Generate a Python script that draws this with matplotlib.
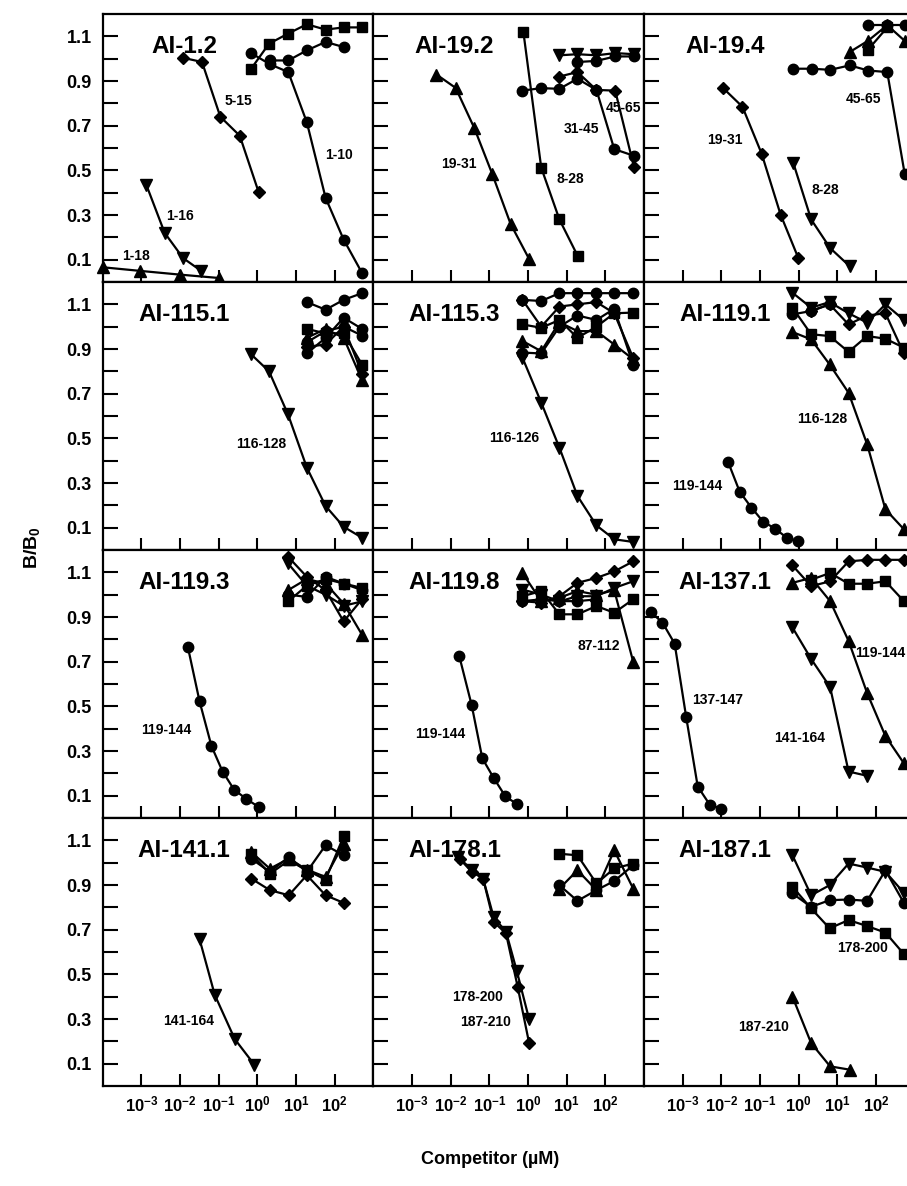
import matplotlib
matplotlib.use('Agg')
import matplotlib.pyplot as plt

plt.rcParams['font.family'] = ['Liberation Sans', 'DejaVu Sans']
plt.rcParams['font.weight'] = 'bold'
plt.rcParams['mathtext.fontset'] = 'custom'
plt.rcParams['mathtext.rm'] = 'Liberation Sans:bold'
plt.rcParams['mathtext.it'] = 'Liberation Sans:bold'
plt.rcParams['mathtext.bf'] = 'Liberation Sans:bold'
plt.rcParams['mathtext.default'] = 'rm'

# competitor concentration (uM) vs B/B0, one list of (marker, x, y) per panel
ai_1_2 = [
    ('^', [1e-4, 9e-4, 1e-2, 0.1], [0.066, 0.05, 0.033, 0.018]),
    ('v', [1.35e-3, 4e-3, 0.012, 0.035], [0.434, 0.22, 0.107, 0.05]),
    ('D', [0.012, 0.037, 0.11, 0.35, 1.07], [1.004, 0.985, 0.74, 0.655, 0.404]),
    ('s', [0.69, 2.0, 6.2, 19, 58, 170, 510], [0.955, 1.067, 1.112, 1.154, 1.13, 1.14, 1.14]),
    ('o', [2.1, 6.3, 19, 58, 170], [0.992, 0.992, 1.037, 1.075, 1.052]),
    ('o', [0.69, 2.1, 6.3, 19, 58, 170, 510], [1.025, 0.975, 0.94, 0.715, 0.377, 0.19, 0.04]),
]
ai_1_2_labels = [('5-15', 0.32, 0.812), ('1-10', 126, 0.569), ('1-16', 0.0098, 0.295), ('1-18', 7.4e-4, 0.118)]

ai_19_2 = [
    ('^', [4.3e-3, 0.0135, 0.041, 0.12, 0.355, 1.07], [0.929, 0.869, 0.689, 0.482, 0.26, 0.103]),
    ('s', [0.76, 2.2, 6.5, 19.5], [1.12, 0.512, 0.28, 0.115]),
    ('o', [0.72, 2.2, 6.5, 19, 59, 170, 550], [0.857, 0.868, 0.865, 0.91, 0.86, 0.595, 0.565]),
    ('D', [6.5, 19, 59, 180, 550], [0.92, 0.94, 0.86, 0.857, 0.515]),
    ('v', [6.5, 19, 59, 180, 550], [1.015, 1.02, 1.015, 1.025, 1.02]),
    ('o', [19, 59, 180, 550], [0.985, 0.99, 1.01, 1.01]),
]
ai_19_2_labels = [('19-31', 0.0166, 0.527), ('8-28', 12.3, 0.46), ('31-45', 24.5, 0.685), ('45-65', 302, 0.78)]

ai_19_4 = [
    ('D', [0.011, 0.035, 0.11, 0.34, 0.98], [0.869, 0.785, 0.575, 0.302, 0.107]),
    ('v', [0.72, 2.1, 6.5, 21], [0.535, 0.28, 0.152, 0.07]),
    ('o', [0.72, 2.2, 6.5, 21, 62, 195, 550], [0.955, 0.955, 0.95, 0.97, 0.947, 0.94, 0.485]),
    ('^', [21, 62, 195, 550], [1.03, 1.08, 1.15, 1.08]),
    ('o', [62, 195, 550], [1.15, 1.15, 1.15]),
    ('s', [62, 195], [1.04, 1.14]),
]
ai_19_4_labels = [('19-31', 0.0123, 0.635), ('8-28', 4.8, 0.41), ('45-65', 48, 0.82)]

ai_115_1 = [
    ('v', [0.69, 2.0, 6.2, 19, 58, 170, 510], [0.876, 0.80, 0.607, 0.369, 0.197, 0.104, 0.055]),
    ('o', [19, 58, 170, 510], [1.11, 1.076, 1.12, 1.15]),
    ('o', [19, 58, 170, 510], [0.88, 0.95, 1.04, 0.99]),
    ('o', [19, 58, 170, 510], [0.93, 0.98, 1.0, 0.96]),
    ('s', [19, 58, 170, 510], [0.99, 0.97, 0.97, 0.83]),
    ('D', [19, 58, 170, 510], [0.91, 0.92, 1.0, 0.79]),
    ('^', [19, 58, 170, 510], [0.95, 0.99, 0.95, 0.76]),
]
ai_115_1_labels = [('116-128', 1.23, 0.473)]

ai_115_3 = [
    ('v', [0.72, 2.2, 6.5, 19, 59, 170, 525], [0.861, 0.66, 0.458, 0.242, 0.11, 0.048, 0.036]),
    ('o', [0.72, 2.2, 6.5, 19, 59, 170, 525], [1.12, 1.115, 1.15, 1.15, 1.15, 1.15, 1.15]),
    ('D', [0.72, 2.2, 6.5, 19, 59, 170, 525], [1.12, 1.0, 1.09, 1.1, 1.11, 1.06, 0.86]),
    ('s', [0.72, 2.2, 6.5, 19, 59, 170, 525], [1.01, 0.995, 1.03, 0.95, 1.0, 1.06, 1.063]),
    ('^', [0.72, 2.2, 6.5, 19, 59, 170, 525], [0.936, 0.89, 1.02, 0.98, 0.98, 0.92, 0.854]),
    ('o', [0.72, 2.2, 6.5, 19, 59, 170, 525], [0.884, 0.88, 1.0, 1.05, 1.03, 1.08, 0.83]),
]
ai_115_3_labels = [('116-126', 0.44, 0.503)]

ai_119_1 = [
    ('o', [0.0148, 0.030, 0.060, 0.12, 0.245, 0.49, 0.98], [0.396, 0.26, 0.19, 0.127, 0.096, 0.055, 0.04]),
    ('^', [0.69, 2.1, 6.3, 19.5, 59, 175, 525], [0.976, 0.943, 0.831, 0.704, 0.473, 0.182, 0.093]),
    ('v', [0.69, 2.1, 6.3, 19.5, 59, 175, 525], [1.152, 1.085, 1.11, 1.06, 1.018, 1.1, 1.03]),
    ('s', [0.69, 2.1, 6.3, 19.5, 59, 175, 525], [1.085, 0.966, 0.958, 0.887, 0.958, 0.946, 0.906]),
    ('D', [2.1, 6.3, 19.5, 59, 175, 525], [1.07, 1.1, 1.01, 1.05, 1.06, 0.88]),
    ('o', [0.69, 2.1, 6.3], [1.055, 1.07, 1.1]),
]
ai_119_1_labels = [('116-128', 4.0, 0.585), ('119-144', 2.45e-3, 0.287)]

ai_119_3 = [
    ('o', [0.016, 0.032, 0.065, 0.126, 0.25, 0.52, 1.07], [0.764, 0.522, 0.322, 0.208, 0.127, 0.085, 0.05]),
    ('D', [6.2, 19, 58, 170, 510], [1.17, 1.08, 1.02, 0.88, 0.98]),
    ('v', [6.2, 19, 58, 170, 510], [1.14, 1.04, 1.0, 0.95, 0.97]),
    ('^', [6.2, 19, 58, 170, 510], [1.02, 1.07, 1.05, 0.96, 0.82]),
    ('s', [6.2, 19, 58, 170, 510], [0.97, 1.04, 1.07, 1.05, 1.03]),
    ('o', [6.2, 19, 58, 170, 510], [1.0, 0.99, 1.08, 1.05, 1.02]),
]
ai_119_3_labels = [('119-144', 4.5e-3, 0.393)]

ai_119_8 = [
    ('o', [0.0166, 0.035, 0.066, 0.13, 0.26, 0.51], [0.727, 0.505, 0.267, 0.179, 0.097, 0.063]),
    ('^', [0.72, 2.2, 6.5, 19, 59, 170, 525], [1.097, 0.971, 0.986, 1.016, 1.0, 1.02, 0.70]),
    ('D', [0.72, 2.2, 6.5, 19, 59, 170, 525], [0.971, 0.964, 0.993, 1.053, 1.075, 1.104, 1.149]),
    ('v', [0.72, 2.2, 6.5, 19, 59, 170, 525], [1.023, 1.0, 0.97, 0.993, 0.993, 1.03, 1.06]),
    ('s', [0.72, 2.2, 6.5, 19, 59, 170, 525], [0.993, 1.016, 0.912, 0.912, 0.949, 0.919, 0.979]),
    ('o', [0.72, 2.2, 6.5, 19, 59], [0.971, 0.979, 0.971, 0.971, 0.979]),
]
ai_119_8_labels = [('119-144', 5.5e-3, 0.376), ('87-112', 68, 0.771)]

ai_137_1 = [
    ('o', [1.5e-4, 3.0e-4, 6.2e-4, 1.23e-3, 2.45e-3, 5.0e-3, 0.01], [0.922, 0.875, 0.781, 0.453, 0.141, 0.06, 0.041]),
    ('v', [0.69, 2.1, 6.5, 19.5, 59], [0.853, 0.712, 0.586, 0.208, 0.189]),
    ('^', [0.69, 2.1, 6.5, 19.5, 59, 175, 525], [1.053, 1.075, 0.971, 0.793, 0.559, 0.367, 0.245]),
    ('D', [0.69, 2.1, 6.5, 19.5, 59, 175, 525], [1.131, 1.038, 1.06, 1.149, 1.156, 1.156, 1.156]),
    ('s', [2.1, 6.5, 19.5, 59, 175, 525], [1.067, 1.097, 1.049, 1.049, 1.06, 0.971]),
]
ai_137_1_labels = [('137-147', 8.1e-3, 0.53), ('141-164', 1.07, 0.36), ('119-144', 129, 0.737)]

ai_141_1 = [
    ('v', [0.032, 0.079, 0.26, 0.83], [0.657, 0.408, 0.21, 0.096]),
    ('D', [0.69, 2.1, 6.5, 19, 58, 170], [0.929, 0.877, 0.854, 0.944, 0.854, 0.82]),
    ('o', [0.69, 2.1, 6.5, 19, 58, 170], [1.018, 0.959, 1.025, 0.959, 1.078, 1.033]),
    ('s', [0.69, 2.1, 6.5, 19, 58, 170], [1.04, 0.95, 1.01, 0.966, 0.924, 1.118]),
    ('^', [0.69, 2.1, 6.5, 19, 58, 170], [1.048, 0.973, 1.018, 0.969, 0.936, 1.085]),
]
ai_141_1_labels = [('141-164', 0.017, 0.293)]

ai_178_1 = [
    ('v', [0.0155, 0.035, 0.069, 0.13, 0.27, 0.51, 1.07], [1.026, 0.969, 0.929, 0.755, 0.691, 0.517, 0.299]),
    ('D', [0.017, 0.035, 0.069, 0.13, 0.27, 0.54, 1.07], [1.018, 0.959, 0.929, 0.735, 0.683, 0.445, 0.192]),
    ('s', [6.5, 19, 59, 170, 525], [1.04, 1.033, 0.907, 0.974, 0.996]),
    ('^', [6.5, 19, 59, 170, 525], [0.884, 0.966, 0.877, 1.055, 0.884]),
    ('o', [6.5, 19, 59, 170, 525], [0.899, 0.829, 0.877, 0.918, 0.988]),
]
ai_178_1_labels = [('178-200', 0.051, 0.398), ('187-210', 0.081, 0.285)]

ai_187_1 = [
    ('^', [0.69, 2.1, 6.5, 21], [0.40, 0.192, 0.088, 0.073]),
    ('v', [0.69, 2.1, 6.3, 19.5, 59, 175, 525], [1.033, 0.854, 0.899, 0.996, 0.978, 0.959, 0.865]),
    ('o', [0.69, 2.1, 6.3, 19.5, 59, 175, 525], [0.862, 0.802, 0.832, 0.835, 0.829, 0.966, 0.82]),
    ('s', [0.69, 2.1, 6.3, 19.5, 59, 175, 525], [0.892, 0.795, 0.706, 0.743, 0.716, 0.687, 0.591]),
]
ai_187_1_labels = [('178-200', 44, 0.616), ('187-210', 0.126, 0.265)]

panels = [
    ('AI-1.2', ai_1_2, ai_1_2_labels), ('AI-19.2', ai_19_2, ai_19_2_labels), ('AI-19.4', ai_19_4, ai_19_4_labels),
    ('AI-115.1', ai_115_1, ai_115_1_labels), ('AI-115.3', ai_115_3, ai_115_3_labels), ('AI-119.1', ai_119_1, ai_119_1_labels),
    ('AI-119.3', ai_119_3, ai_119_3_labels), ('AI-119.8', ai_119_8, ai_119_8_labels), ('AI-137.1', ai_137_1, ai_137_1_labels),
    ('AI-141.1', ai_141_1, ai_141_1_labels), ('AI-178.1', ai_178_1, ai_178_1_labels), ('AI-187.1', ai_187_1, ai_187_1_labels),
]

x_ticks = [1e-3, 1e-2, 1e-1, 1e0, 1e1, 1e2]
x_ticklabels = ['10$^{-3}$', '10$^{-2}$', '10$^{-1}$', '10$^{0}$', '10$^{1}$', '10$^{2}$']
y_ticks = [0.1, 0.3, 0.5, 0.7, 0.9, 1.1]
y_minor = [0.2, 0.4, 0.6, 0.8, 1.0]

W, H = 907, 1186
fig = plt.figure(figsize=(W / 100, H / 100), dpi=100)
col_left = [102.7, 373.3, 644.0]
row_top = [14, 282, 550, 818]
pw, ph = 270.7, 268
msize = {'o': 7.5, 's': 7, 'D': 6.5, '^': 8, 'v': 8}

for i, (name, series, labels) in enumerate(panels):
    r, c = divmod(i, 3)
    ax = fig.add_axes([col_left[c] / W, 1 - (row_top[r] + ph) / H, pw / W, ph / H])
    for m, xs, ys in series:
        ax.plot(xs, ys, color='black', lw=1.6, marker=m, ms=msize[m], mfc='black', mec='black', clip_on=False)
    for txt, lx, ly in labels:
        ax.text(lx, ly, txt, fontsize=10, fontweight='bold', ha='center', va='center')
    ax.text(0.30, 0.855, name, transform=ax.transAxes, fontsize=17.5, fontweight='bold', ha='center', va='baseline')
    ax.set_xscale('log')
    ax.set_xlim(1e-4, 1e3)
    ax.set_ylim(0, 1.2)
    ax.set_xticks(x_ticks)
    ax.xaxis.set_minor_locator(matplotlib.ticker.NullLocator())
    ax.set_yticks(y_ticks)
    ax.set_yticks(y_minor, minor=True)
    ax.tick_params(axis='x', which='major', direction='in', length=9, width=1.5, top=False, pad=6)
    ax.tick_params(axis='y', which='both', direction='in', length=11, width=1.5, right=False, pad=8)
    if r == 3:
        ax.set_xticklabels(x_ticklabels, fontsize=12, fontweight='bold')
    else:
        ax.set_xticklabels([])
    if c == 0:
        ax.set_yticklabels(['%.1f' % v for v in y_ticks], fontsize=13, fontweight='bold')
    else:
        ax.set_yticklabels([])
    for sp in ax.spines.values():
        sp.set_linewidth(1.6)

fig.text(0.035, 0.538, 'B/B$_0$', rotation=90, fontsize=14, fontweight='bold', ha='center', va='center')
fig.text(0.54, 0.022, 'Competitor (\u00b5M)', fontsize=13, fontweight='bold', ha='center', va='center')

fig.savefig('out.png', dpi=100)
